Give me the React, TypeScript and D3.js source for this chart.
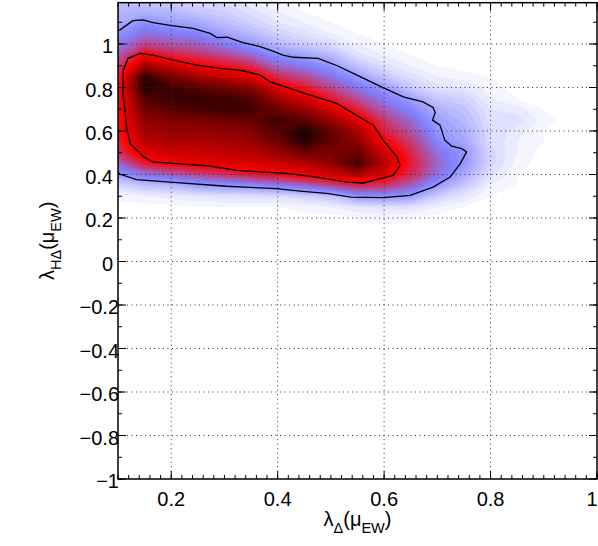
import * as d3 from "d3";

// density grid: columns along x, rows along y (top row first)
const xGrid = [0.1, 0.15, 0.2, 0.25, 0.3, 0.35, 0.4, 0.45, 0.5, 0.55, 0.6, 0.65, 0.7, 0.75, 0.8, 0.85, 0.9, 0.95, 1.0];
const yGrid = [1.2, 1.15, 1.1, 1.05, 1.0, 0.95, 0.9, 0.85, 0.8, 0.75, 0.7, 0.65, 0.6, 0.55, 0.5, 0.45, 0.4, 0.35, 0.3, 0.25, 0.2];

const density = [
  [12, 11, 9, 7, 6, 3, 1, 0, 0, 0, 0, 0, 0, 0, 0, 0, 0, 0, 0],
  [15, 15, 14, 11, 9, 6, 3, 1, 0, 0, 0, 0, 0, 0, 0, 0, 0, 0, 0],
  [17, 22, 19, 17, 13, 9, 5, 3, 1, 0, 0, 0, 0, 0, 0, 0, 0, 0, 0],
  [21, 28, 26, 24, 18, 14, 9, 6, 3, 1, 0, 0, 0, 0, 0, 0, 0, 0, 0],
  [26, 36, 33, 31, 26, 20, 14, 10, 7, 3, 1, 0, 0, 0, 0, 0, 0, 0, 0],
  [32, 51, 44, 40, 36, 30, 22, 18, 14, 6, 3, 1, 0, 0, 0, 0, 0, 0, 0],
  [38, 68, 60, 52, 47, 42, 30, 26, 21, 12, 6, 3, 1, 0, 0, 0, 0, 0, 0],
  [43, 90, 76, 68, 62, 56, 42, 36, 28, 20, 12, 6, 3, 2, 1, 0, 0, 0, 0],
  [45, 93, 87, 82, 78, 72, 54, 46, 36, 27, 20, 11, 6, 5, 2, 0, 0, 0, 0],
  [46, 84, 89, 90, 88, 84, 68, 58, 46, 35, 26, 19, 11, 9, 3, 1, 0, 0, 0],
  [47, 78, 83, 86, 89, 88, 78, 70, 58, 44, 32, 24, 16, 12, 5, 4, 1, 0, 0],
  [47, 72, 75, 76, 78, 81, 88, 82, 70, 56, 39, 29, 19, 14, 6, 6, 2, 0, 0],
  [46, 68, 70, 70, 72, 74, 84, 95, 80, 66, 44, 34, 21, 16, 7, 4, 1, 0, 0],
  [44, 64, 66, 66, 68, 70, 78, 92, 80, 72, 51, 39, 24, 18, 7, 3, 1, 0, 0],
  [40, 56, 60, 60, 62, 64, 70, 78, 76, 80, 60, 43, 28, 21, 8, 3, 0, 0, 0],
  [30, 45, 50, 54, 56, 57, 60, 64, 72, 87, 64, 45, 30, 21, 8, 2, 0, 0, 0],
  [20, 28, 32, 36, 40, 45, 48, 52, 58, 66, 56, 42, 28, 17, 6, 1, 0, 0, 0],
  [8, 12, 14, 19, 21, 22, 26, 30, 36, 42, 40, 32, 20, 11, 3, 1, 0, 0, 0],
  [2, 3, 4, 5, 6, 6, 7, 9, 12, 21, 22, 20, 10, 5, 1, 0, 0, 0, 0],
  [0, 0, 0, 1, 1, 1, 1, 2, 3, 5, 6, 6, 3, 1, 0, 0, 0, 0, 0],
  [0, 0, 0, 0, 0, 0, 0, 0, 0, 1, 1, 1, 0, 0, 0, 0, 0, 0, 0],
];

// 95% contour (open, clipped by left axis) and 68% contour (closed)
const outerContour = [
  [0.1, 0.41], [0.104, 0.401], [0.135, 0.376], [0.198, 0.365], [0.304, 0.346], [0.398, 0.335],
  [0.442, 0.324], [0.492, 0.313], [0.538, 0.296], [0.599, 0.294], [0.649, 0.304], [0.692, 0.342],
  [0.724, 0.388], [0.743, 0.45], [0.755, 0.504], [0.746, 0.519], [0.727, 0.53], [0.714, 0.558],
  [0.705, 0.627], [0.691, 0.65], [0.696, 0.685], [0.692, 0.708], [0.673, 0.734], [0.636, 0.757],
  [0.592, 0.806], [0.549, 0.857], [0.512, 0.9], [0.476, 0.934], [0.429, 0.939], [0.41, 0.949],
  [0.386, 0.972], [0.367, 0.988], [0.335, 1.006], [0.305, 1.031], [0.286, 1.029], [0.273, 1.049],
  [0.241, 1.072], [0.201, 1.084], [0.166, 1.098], [0.147, 1.111], [0.128, 1.107], [0.104, 1.065],
  [0.1, 1.062],
];
const innerContour = [
  [0.11, 0.88], [0.119, 0.934], [0.141, 0.957], [0.166, 0.949], [0.204, 0.926], [0.248, 0.903],
  [0.292, 0.888], [0.335, 0.877], [0.367, 0.857], [0.386, 0.826], [0.423, 0.796], [0.461, 0.765],
  [0.511, 0.727], [0.542, 0.681], [0.58, 0.627], [0.598, 0.558], [0.624, 0.481], [0.63, 0.442],
  [0.617, 0.396], [0.592, 0.381], [0.561, 0.361], [0.53, 0.365], [0.48, 0.386], [0.423, 0.404],
  [0.367, 0.412], [0.323, 0.419], [0.273, 0.439], [0.21, 0.45], [0.166, 0.458], [0.148, 0.481],
  [0.123, 0.542], [0.116, 0.619], [0.113, 0.696], [0.109, 0.773],
];

const xTicks = [0.2, 0.4, 0.6, 0.8, 1];
const yTicks = [-1, -0.8, -0.6, -0.4, -0.2, 0, 0.2, 0.4, 0.6, 0.8, 1];
const xDomain = [0.1, 1];
const yDomain = [-1, 1.19];

const W = 598;
const H = 546;
const FONT = "'Liberation Sans', Arial, Helvetica, sans-serif";

export default function App() {
  const x = d3.scaleLinear().domain(xDomain).range([118, 597]);
  const y = d3.scaleLinear().domain([-1, 1]).range([479, 44]);
  const left = x(xDomain[0]);
  const right = x(xDomain[1]);
  const top = y(yDomain[1]);
  const bottom = y(yDomain[0]);

  // colormap: white -> lavender blue -> red -> black
  const color = d3
    .scaleLinear<string>()
    .domain([0, 25, 50, 100])
    .range(["#ffffff", "#8080ff", "#ff0000", "#000000"])
    .clamp(true);

  const nx = xGrid.length;
  const ny = yGrid.length;
  const dx = xGrid[1] - xGrid[0];
  const dy = yGrid[1] - yGrid[0];
  const values = density.flat();
  const levels = d3.range(1, 100, 2);
  const bands = d3.contours().size([nx, ny]).thresholds(levels)(values);

  const toPx = d3.geoTransform({
    point(px: number, py: number) {
      this.stream.point(x(xGrid[0] + (px - 0.5) * dx), y(yGrid[0] + (py - 0.5) * dy));
    },
  });
  const geo = d3.geoPath(toPx);

  const line = d3
    .line<number[]>()
    .x((d) => x(d[0]))
    .y((d) => y(d[1]));

  const xMinor = d3.range(0.1, 1.0001, 0.02);
  const yMinor = d3.range(-1, 1.19, 0.1);

  return (
    <svg width={W} height={H} style={{ position: "absolute", left: 0, top: 0, background: "#fff" }}>
      <defs>
        <clipPath id="plot">
          <rect x={left} y={top} width={right - left} height={bottom - top} />
        </clipPath>
      </defs>

      <g clipPath="url(#plot)">
        {bands.map((b, i) => (
          <path key={i} d={geo(b as any) || ""} fill={color(b.value + 1)} stroke="none" />
        ))}
      </g>

      {/* dotted grid */}
      <g stroke="#333" strokeWidth={1} strokeDasharray="1 3.5">
        {xTicks.filter((t) => t < 1).map((t) => (
          <line key={"gx" + t} x1={x(t)} x2={x(t)} y1={top} y2={bottom} />
        ))}
        {yTicks.filter((t) => t > -1).map((t) => (
          <line key={"gy" + t} x1={left} x2={right} y1={y(t)} y2={y(t)} />
        ))}
      </g>

      <g clipPath="url(#plot)" fill="none" stroke="#000" strokeWidth={1.3}>
        <path d={line(outerContour) || ""} />
        <path d={(line(innerContour) || "") + "Z"} />
      </g>

      {/* ticks, all inward */}
      <g stroke="#000" strokeWidth={1}>
        {xMinor.map((t, i) => (
          <g key={"xm" + i}>
            <line x1={x(t)} x2={x(t)} y1={bottom} y2={bottom - 4} />
            <line x1={x(t)} x2={x(t)} y1={top} y2={top + 4} />
          </g>
        ))}
        {xTicks.map((t) => (
          <g key={"xt" + t}>
            <line x1={x(t)} x2={x(t)} y1={bottom} y2={bottom - 8} />
            <line x1={x(t)} x2={x(t)} y1={top} y2={top + 8} />
          </g>
        ))}
        {yMinor.map((t, i) => (
          <g key={"ym" + i}>
            <line x1={left} x2={left + 4} y1={y(t)} y2={y(t)} />
            <line x1={right} x2={right - 4} y1={y(t)} y2={y(t)} />
          </g>
        ))}
        {yTicks.map((t) => (
          <g key={"yt" + t}>
            <line x1={left} x2={left + 8} y1={y(t)} y2={y(t)} />
            <line x1={right} x2={right - 8} y1={y(t)} y2={y(t)} />
          </g>
        ))}
      </g>

      <rect x={left} y={top} width={right - left} height={bottom - top} fill="none" stroke="#000" strokeWidth={1.5} />

      <g fontFamily={FONT} fontSize={20} fill="#000">
        {xTicks.map((t) => (
          <text key={"xl" + t} x={Math.min(x(t), 592)} y={506} textAnchor="middle">
            {String(t)}
          </text>
        ))}
        {yTicks.map((t) => (
          <text key={"yl" + t} x={t < 0 ? 119 : 113} y={y(t) + 9} textAnchor="end">
            {t < 0 ? "\u2212" + Math.abs(t) : String(t)}
          </text>
        ))}

        <text x={(left + right) / 2} y={526} textAnchor="middle" fontSize={20}>
          λ<tspan fontSize={14.5} dy={7}>Δ</tspan>
          <tspan dy={-7}>(μ</tspan>
          <tspan fontSize={14.5} dy={7}>EW</tspan>
          <tspan dy={-7}>)</tspan>
        </text>

        <text transform={`translate(54, ${(top + bottom) / 2}) rotate(-90)`} textAnchor="middle" fontSize={20}>
          λ<tspan fontSize={14.5} dy={7}>HΔ</tspan>
          <tspan dy={-7}>(μ</tspan>
          <tspan fontSize={14.5} dy={7}>EW</tspan>
          <tspan dy={-7}>)</tspan>
        </text>
      </g>
    </svg>
  );
}
